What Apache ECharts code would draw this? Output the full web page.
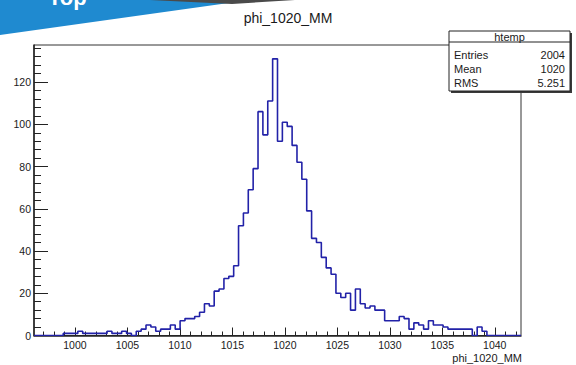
<!DOCTYPE html>
<html>
<head>
<meta charset="utf-8">
<script src="https://cdn.jsdelivr.net/npm/echarts@6/dist/echarts.min.js"></script>
<style>
  html, body { margin: 0; padding: 0; background: #ffffff; }
  #main { width: 576px; height: 365px; }
</style>
</head>
<body>
<div id="main"></div>
<script>
// Histogram of phi_1020_MM: 100 equal bins between X_MIN and X_MAX
const histTitle = 'phi_1020_MM';
const xAxisTitle = 'phi_1020_MM';
const X_MIN = 996.1;
const X_MAX = 1042.5;
const Y_MAX = 137.55;          // 1.05 x highest bin
const counts = [
  0, 0, 0, 0, 0, 0, 1, 1, 1, 2,
  1, 1, 1, 1, 1, 2, 1, 1, 2, 1,
  0, 2, 3, 5, 4, 2, 3, 3, 5, 3,
  7, 8, 8, 9, 11, 15, 14, 21, 22, 27,
  28, 33, 52, 58, 69, 79, 106, 95, 111, 131,
  92, 101, 99, 90, 82, 74, 59, 46, 44, 37,
  32, 29, 20, 18, 20, 12, 22, 15, 13, 14,
  12, 12, 7, 7, 7, 9, 8, 3, 6, 5,
  3, 7, 5, 5, 4, 3, 3, 3, 3, 3,
  0, 4, 2, 0, 0, 0, 0, 0, 0, 0
];
const xMajorTicks = [1000, 1005, 1010, 1015, 1020, 1025, 1030, 1035, 1040];
const yMajorTicks = [0, 20, 40, 60, 80, 100, 120];
const statsName = 'htemp';
const statsLabels = ['Entries', 'Mean', 'RMS'];
const statsValues = ['2004', '1020', '5.251'];

// minor tick positions: every unit on x, every 4 counts on y
const xMinorTicks = [];
for (let v = Math.ceil(X_MIN); v <= X_MAX; v++) if (v % 5 !== 0) xMinorTicks.push(v);
const yMinorTicks = [];
for (let v = 4; v < Y_MAX; v += 4) if (v % 20 !== 0) yMinorTicks.push(v);

// step outline: one point per bin low edge, plus the upper edge of the last bin
const binWidth = (X_MAX - X_MIN) / counts.length;
const outline = counts.map((c, i) => [X_MIN + i * binWidth, c]);
outline.push([X_MAX, counts[counts.length - 1]]);

const FONT = '"Liberation Sans", Arial, Helvetica, sans-serif';
const INK = '#1a1a1a';

const chart = echarts.init(document.getElementById('main'), null, { renderer: 'svg' });

const statsGraphics = [
  // drop shadow of the stats box
  { type: 'rect', shape: { x: 451, y: 33, width: 121, height: 60 }, style: { fill: '#3a3a3a' } },
  { type: 'rect', shape: { x: 449, y: 31, width: 121, height: 60 },
    style: { fill: '#ffffff', stroke: '#222', lineWidth: 1 } },
  { type: 'line', shape: { x1: 449, y1: 42, x2: 570, y2: 42 }, style: { stroke: '#222', lineWidth: 1 } },
  { type: 'text', x: 509.5, y: 36.5,
    style: { text: statsName, font: '11px ' + FONT, fill: INK, align: 'center', verticalAlign: 'middle' } }
];
statsLabels.forEach((lab, i) => {
  const y = 55 + i * 14;
  statsGraphics.push({ type: 'text', x: 454, y: y,
    style: { text: lab, font: '11px ' + FONT, fill: INK, align: 'left', verticalAlign: 'middle' } });
  statsGraphics.push({ type: 'text', x: 565, y: y,
    style: { text: statsValues[i], font: '11px ' + FONT, fill: INK, align: 'right', verticalAlign: 'middle' } });
});

const option = {
  animation: false,
  backgroundColor: '#ffffff',
  grid: {
    left: 34, right: 55, top: 45, bottom: 29.5,
    show: true, borderColor: '#333', borderWidth: 1, backgroundColor: 'transparent'
  },
  xAxis: [
    {
      type: 'value', min: X_MIN, max: X_MAX, position: 'bottom',
      axisLine: { show: true, onZero: false, lineStyle: { color: '#222', width: 1.5 } },
      splitLine: { show: false },
      axisTick: { show: true, inside: true, length: 8, customValues: xMajorTicks,
                  lineStyle: { color: '#222', width: 1 } },
      axisLabel: { show: true, customValues: xMajorTicks, margin: 4,
                   formatter: v => String(v),
                   color: INK, fontFamily: FONT, fontSize: 10.5, lineHeight: 11 }
    },
    {
      type: 'value', min: X_MIN, max: X_MAX, position: 'bottom',
      axisLine: { show: false },
      splitLine: { show: false },
      axisTick: { show: true, inside: true, length: 4, customValues: xMinorTicks,
                  lineStyle: { color: '#222', width: 1 } },
      axisLabel: { show: false }
    }
  ],
  yAxis: [
    {
      type: 'value', min: 0, max: Y_MAX, position: 'left',
      axisLine: { show: true, onZero: false, lineStyle: { color: '#222', width: 1.5 } },
      splitLine: { show: false },
      axisTick: { show: true, inside: true, length: 14, customValues: yMajorTicks,
                  lineStyle: { color: '#222', width: 1 } },
      axisLabel: { show: true, customValues: yMajorTicks, margin: 3,
                   formatter: v => String(v),
                   color: INK, fontFamily: FONT, fontSize: 10.5 }
    },
    {
      type: 'value', min: 0, max: Y_MAX, position: 'left',
      axisLine: { show: false },
      splitLine: { show: false },
      axisTick: { show: true, inside: true, length: 7, customValues: yMinorTicks,
                  lineStyle: { color: '#222', width: 1 } },
      axisLabel: { show: false }
    }
  ],
  series: [
    {
      type: 'line', step: 'end', data: outline, xAxisIndex: 0, yAxisIndex: 0,
      symbol: 'none', clip: true,
      lineStyle: { color: '#2222a8', width: 1.6 }
    }
  ],
  graphic: [
    // slide banner in the upper-left corner
    { type: 'polygon', shape: { points: [[0, 0], [250, 0], [0, 35]] },
      style: { fill: '#1f8ad0' } },
    { type: 'polygon', shape: { points: [[150, 0], [295, 0], [232, 4]] },
      style: { fill: '#4a4a4a' } },
    { type: 'text', x: 48, y: -14,
      style: { text: 'Top', font: 'bold 22px ' + FONT, fill: '#ffffff' } },
    { type: 'text', x: 288, y: 18,
      style: { text: histTitle, font: '14px ' + FONT, fill: INK, align: 'center', verticalAlign: 'middle' } },
    { type: 'text', x: 522, y: 357.5,
      style: { text: xAxisTitle, font: '11px ' + FONT, fill: INK, align: 'right', verticalAlign: 'middle', lineHeight: 11 } }
  ].concat(statsGraphics)
};

chart.setOption(option);
</script>
</body>
</html>
